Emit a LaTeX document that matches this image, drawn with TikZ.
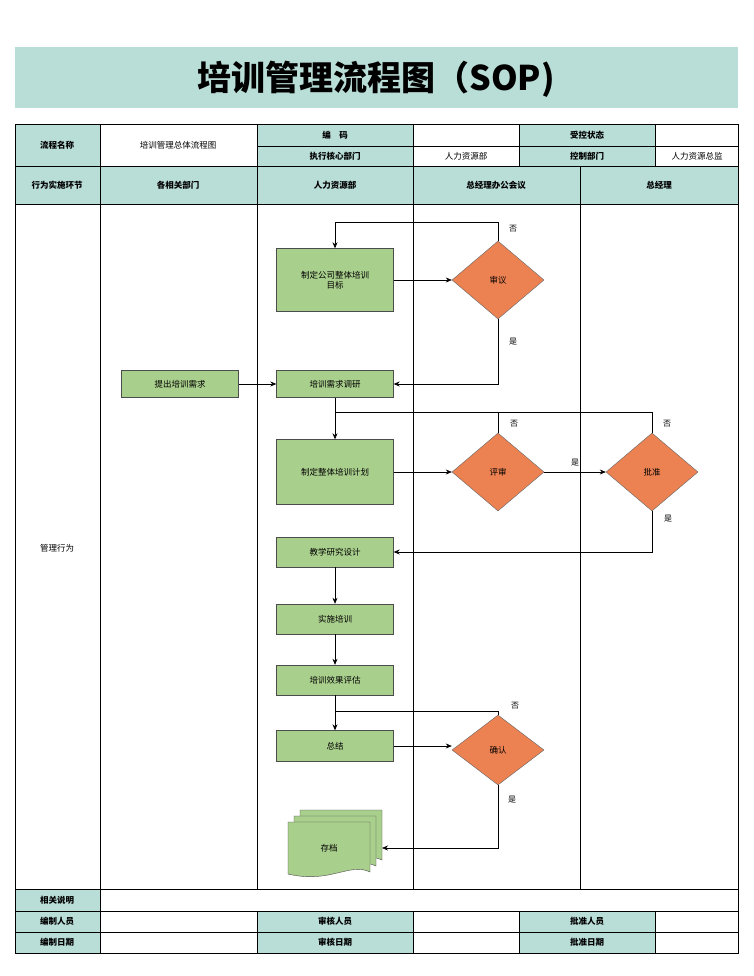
\documentclass[tikz,border=0pt]{standalone}
\usepackage{fontspec}
\setmainfont{Noto Sans CJK SC}
\usetikzlibrary{shapes.geometric,arrows.meta,positioning}
\definecolor{hdr}{HTML}{B9DDD7}
\definecolor{grn}{HTML}{A9CF8C}
\definecolor{org}{HTML}{EC8152}
\begin{document}
\begin{tikzpicture}[x=1pt,y=-1pt,font=\fontsize{8.5}{10}\selectfont]
    \tikzset{hcell/.style={draw=black,fill=hdr,line width=0.6pt},
      wcell/.style={draw=black,fill=white,line width=0.6pt},
      hd/.style={font=\fontsize{8.5}{10}\selectfont\bfseries},
      box/.style={rectangle,draw=black!70,fill=grn,minimum width=117pt,align=center},
      dec/.style={diamond,draw=black!60,fill=org,minimum width=92pt,minimum height=78pt,inner sep=0pt},
      lbl/.style={font=\fontsize{8}{9}\selectfont},
      arr/.style={-{Stealth[length=6pt,width=5pt]},black,line width=0.6pt}}
    \useasboundingbox (0,0) rectangle (753,976);
    \fill[white] (0,0) rectangle (753,976);
    % title
    \fill[hdr] (15,47) rectangle (738,108);
    \node[font=\fontsize{34}{36}\selectfont\bfseries] at (376,79) {培训管理流程图（SOP)};
    % table head
    \draw[hcell] (15,124) rectangle (100,166); \node[hd] at (57,145) {流程名称};
    \draw[wcell] (100,124) rectangle (257,166); \node at (178,145) {培训管理总体流程图};
    \draw[hcell] (257,124) rectangle (413,146); \node[hd] at (335,135) {编\quad 码};
    \draw[hcell] (257,146) rectangle (413,166); \node[hd] at (335,156) {执行核心部门};
    \draw[wcell] (413,124) rectangle (519,146);
    \draw[wcell] (413,146) rectangle (519,166); \node at (466,156) {人力资源部};
    \draw[hcell] (519,124) rectangle (655,146); \node[hd] at (587,135) {受控状态};
    \draw[hcell] (519,146) rectangle (655,166); \node[hd] at (587,156) {控制部门};
    \draw[wcell] (655,124) rectangle (738,146);
    \draw[wcell] (655,146) rectangle (738,166); \node at (697,156) {人力资源总监};
    \draw[hcell] (15,166) rectangle (100,204); \node[hd] at (57,185) {行为实施环节};
    \draw[hcell] (100,166) rectangle (257,204); \node[hd] at (178,185) {各相关部门};
    \draw[hcell] (257,166) rectangle (413,204); \node[hd] at (335,185) {人力资源部};
    \draw[hcell] (413,166) rectangle (580,204); \node[hd] at (496,185) {总经理办公会议};
    \draw[hcell] (580,166) rectangle (738,204); \node[hd] at (659,185) {总经理};
    % lanes
    \draw[wcell] (15,204) rectangle (738,889);
    \foreach \x in {100,257,413,580} \draw[line width=0.6pt] (\x,204) -- (\x,889);
    \node at (57,548) {管理行为};
    % bottom rows
    \draw[hcell] (15,889) rectangle (100,911); \node[hd] at (57,900) {相关说明};
    \draw[wcell] (100,889) rectangle (738,911);
    \foreach \y/\a/\b/\c in {911/编制人员/审核人员/批准人员,932/编制日期/审核日期/批准日期} {
      \draw[hcell] (15,\y) rectangle (100,\y+21); \node[hd] at (57,\y+10.5) {\a};
      \draw[wcell] (100,\y) rectangle (257,\y+21);
      \draw[hcell] (257,\y) rectangle (413,\y+21); \node[hd] at (335,\y+10.5) {\b};
      \draw[wcell] (413,\y) rectangle (519,\y+21);
      \draw[hcell] (519,\y) rectangle (655,\y+21); \node[hd] at (587,\y+10.5) {\c};
      \draw[wcell] (655,\y) rectangle (738,\y+21);
    }
    % flow
    \node (goal) [box,minimum height=63pt] at (335,280) {制定公司整体培训\\目标};
    \node (rev1) [dec] at (498,280) {审议};
    \node (need) [box,minimum height=27pt] at (180,384) {提出培训需求};
    \node (survey) [box,minimum height=27pt] at (335,384) {培训需求调研};
    \node (plan) [box,minimum height=65pt] at (335,472) {制定整体培训计划};
    \node (rev2) [dec] at (498,472) {评审};
    \node (appr) [dec] at (652,472) {批准};
    \node (design) [box,minimum height=30pt] at (335,552) {教学研究设计};
    \node (train) [box,minimum height=30pt] at (335,619) {实施培训};
    \node (eval) [box,minimum height=30pt] at (335,680) {培训效果评估};
    \node (sum) [box,minimum height=31pt] at (335,746) {总结};
    \node (conf) [dec,minimum height=70pt] at (498,750) {确认};
    % archive
    \foreach \d in {12,6,0}
      \draw[black!70,fill=grn] (288+\d,822-\d) -- (370+\d,822-\d) -- (370+\d,872-\d)
        .. controls (350+\d,862-\d) and (330+\d,884-\d) .. (288+\d,874-\d) -- cycle;
    \node (arch) at (329,848) {存档};
    \coordinate (archr) at (382,848);
    % connectors
    \draw[arr] (goal) -- (rev1);
    \draw[arr] (rev1.north) |- (335,222) -- (goal.north);
    \node[lbl] at (513,229) {否};
    \draw[arr] (rev1.south) |- (survey.east);
    \node[lbl] at (513,342) {是};
    \draw[arr] (need) -- (survey);
    \draw[arr] (survey) -- (plan);
    \draw[line width=0.6pt] (rev2.north) |- (335,412);
    \draw[line width=0.6pt] (appr.north) |- (498,412);
    \node[lbl] at (514,424) {否};
    \node[lbl] at (667,424) {否};
    \draw[arr] (plan) -- (rev2);
    \draw[arr] (rev2) -- node[lbl,above=2pt] {是} (appr);
    \draw[arr] (appr.south) |- (design.east);
    \node[lbl] at (668,519) {是};
    \draw[arr] (design) -- (train);
    \draw[arr] (train) -- (eval);
    \draw[arr] (eval) -- (sum);
    \draw[line width=0.6pt] (conf.north) |- (335,711);
    \node[lbl] at (515,706) {否};
    \draw[arr] (sum.east) -- (sum.east -| conf.west);
    \draw[arr] (conf.south) |- (archr);
    \node[lbl] at (512,800) {是};
\end{tikzpicture}
\end{document}
